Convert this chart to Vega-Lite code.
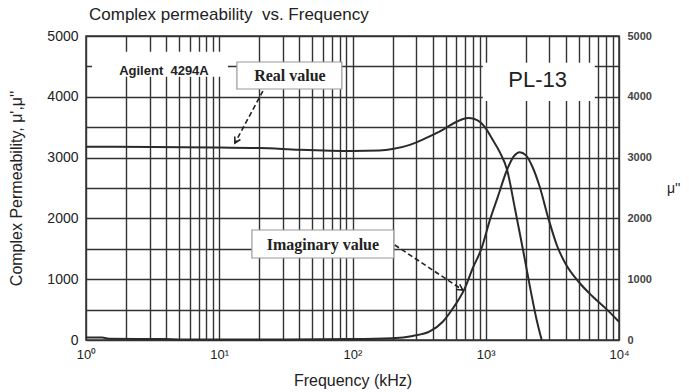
{
  "$schema": "https://vega.github.io/schema/vega-lite/v6.json",
  "width": 533,
  "height": 304,
  "autosize": {"type": "none"},
  "padding": {"left": 86, "top": 36, "right": 70, "bottom": 52},
  "background": "white",
  "title": {"text": "Complex permeability\u00a0\u00a0vs. Frequency", "anchor": "start", "frame": "group", "font": "Liberation Sans", "fontSize": 17, "fontWeight": "normal", "color": "#222", "offset": 5, "dx": 3},
  "config": {
    "view": {"stroke": "#333", "strokeWidth": 1.5},
    "axis": {"domain": false, "ticks": false, "gridColor": "#333", "gridWidth": 1.4, "gridOpacity": 1, "labelFont": "Liberation Sans", "titleFont": "Liberation Sans", "labelColor": "#222", "titleColor": "#222", "titleFontWeight": "normal"}
  },
  "datasets": {
    "curves": [
      {"freq": 1, "mu": 3180, "series": "Real"},
      {"freq": 3.162, "mu": 3175, "series": "Real"},
      {"freq": 10, "mu": 3165, "series": "Real"},
      {"freq": 19.95, "mu": 3158, "series": "Real"},
      {"freq": 39.81, "mu": 3130, "series": "Real"},
      {"freq": 100, "mu": 3110, "series": "Real"},
      {"freq": 158.5, "mu": 3118, "series": "Real"},
      {"freq": 199.5, "mu": 3140, "series": "Real"},
      {"freq": 269.2, "mu": 3210, "series": "Real"},
      {"freq": 354.8, "mu": 3320, "series": "Real"},
      {"freq": 478.6, "mu": 3460, "series": "Real"},
      {"freq": 602.6, "mu": 3590, "series": "Real"},
      {"freq": 676.1, "mu": 3635, "series": "Real"},
      {"freq": 741.3, "mu": 3650, "series": "Real"},
      {"freq": 812.8, "mu": 3640, "series": "Real"},
      {"freq": 912.0, "mu": 3580, "series": "Real"},
      {"freq": 1000, "mu": 3480, "series": "Real"},
      {"freq": 1122, "mu": 3300, "series": "Real"},
      {"freq": 1274, "mu": 3090, "series": "Real"},
      {"freq": 1445, "mu": 2800, "series": "Real"},
      {"freq": 1660, "mu": 2150, "series": "Real"},
      {"freq": 1905, "mu": 1480, "series": "Real"},
      {"freq": 2188, "mu": 780, "series": "Real"},
      {"freq": 2399, "mu": 350, "series": "Real"},
      {"freq": 2630, "mu": 0, "series": "Real"},
      {"freq": 1, "mu": 40, "series": "Imaginary"},
      {"freq": 1.318, "mu": 40, "series": "Imaginary"},
      {"freq": 1.514, "mu": 20, "series": "Imaginary"},
      {"freq": 3.981, "mu": 15, "series": "Imaginary"},
      {"freq": 5.012, "mu": 10, "series": "Imaginary"},
      {"freq": 31.62, "mu": 10, "series": "Imaginary"},
      {"freq": 100, "mu": 15, "series": "Imaginary"},
      {"freq": 199.5, "mu": 30, "series": "Imaginary"},
      {"freq": 283.5, "mu": 67, "series": "Imaginary"},
      {"freq": 380.2, "mu": 140, "series": "Imaginary"},
      {"freq": 475.9, "mu": 300, "series": "Imaginary"},
      {"freq": 565.7, "mu": 517, "series": "Imaginary"},
      {"freq": 695.8, "mu": 850, "series": "Imaginary"},
      {"freq": 799.0, "mu": 1183, "series": "Imaginary"},
      {"freq": 933.3, "mu": 1517, "series": "Imaginary"},
      {"freq": 1072, "mu": 1967, "series": "Imaginary"},
      {"freq": 1230, "mu": 2350, "series": "Imaginary"},
      {"freq": 1445, "mu": 2800, "series": "Imaginary"},
      {"freq": 1622, "mu": 3020, "series": "Imaginary"},
      {"freq": 1799, "mu": 3090, "series": "Imaginary"},
      {"freq": 1995, "mu": 3040, "series": "Imaginary"},
      {"freq": 2239, "mu": 2850, "series": "Imaginary"},
      {"freq": 2541, "mu": 2520, "series": "Imaginary"},
      {"freq": 2951, "mu": 2000, "series": "Imaginary"},
      {"freq": 3428, "mu": 1550, "series": "Imaginary"},
      {"freq": 3981, "mu": 1250, "series": "Imaginary"},
      {"freq": 5012, "mu": 950, "series": "Imaginary"},
      {"freq": 6310, "mu": 720, "series": "Imaginary"},
      {"freq": 8128, "mu": 500, "series": "Imaginary"},
      {"freq": 10000, "mu": 300, "series": "Imaginary"}
    ],
    "boxes": [
      {"x1": 1.109, "x2": 11.61, "y1": 4330, "y2": 4740, "kind": "plain"},
      {"x1": 950, "x2": 6577, "y1": 3930, "y2": 4560, "kind": "plain"},
      {"x1": 13.57, "x2": 83.2, "y1": 4128, "y2": 4572, "kind": "framed"},
      {"x1": 17.58, "x2": 204.2, "y1": 1349, "y2": 1809, "kind": "framed"}
    ],
    "labels": [
      {"freq": 3.846, "mu": 4424, "text": "Agilent\u00a0\u00a04294A", "kind": "sans"},
      {"freq": 2455, "mu": 4276, "text": "PL-13", "kind": "big"},
      {"freq": 33.9, "mu": 4342, "text": "Real value", "kind": "serif"},
      {"freq": 59.95, "mu": 1562, "text": "Imaginary value", "kind": "serif"}
    ],
    "arrows": [
      {"f1": 21.26, "m1": 4095, "f2": 13.11, "m2": 3240, "name": "real"},
      {"f1": 207.7, "m1": 1562, "f2": 672, "m2": 822, "name": "imag"}
    ]
  },
  "layer": [
    {
      "data": {"name": "boxes"},
      "mark": {"type": "rect", "fill": "white", "strokeWidth": 1.2},
      "encoding": {
        "x": {"field": "x1", "type": "quantitative", "scale": {"type": "log", "domain": [1, 10000], "nice": false},
          "axis": {"values": [1,2,3,4,5,6,7,8,9,10,20,30,40,50,60,70,80,90,100,200,300,400,500,600,700,800,900,1000,2000,3000,4000,5000,6000,7000,8000,9000,10000],
            "grid": true,
            "labelExpr": "datum.value == 1 ? '10⁰' : datum.value == 10 ? '10¹' : datum.value == 100 ? '10²' : datum.value == 1000 ? '10³' : datum.value == 10000 ? '10⁴' : ''",
            "labelFontSize": 13, "labelPadding": 8, "labelFlush": false, "labelOverlap": false,
            "title": "Frequency (kHz)", "titleFontSize": 16, "titlePadding": 11}},
        "x2": {"field": "x2"},
        "y": {"field": "y1", "type": "quantitative", "scale": {"domain": [0, 5000], "nice": false},
          "axis": {"values": [0,500,1000,1500,2000,2500,3000,3500,4000,4500,5000], "format": "d", "grid": true,
            "labelExpr": "datum.value % 1000 == 0 ? datum.label : ''",
            "labelFontSize": 14, "labelPadding": 8, "labelFlush": false,
            "title": "Complex Permeability, μ',μ''", "titleFontSize": 16, "titlePadding": 22}},
        "y2": {"field": "y2"},
        "stroke": {"condition": {"test": "datum.kind === 'framed'", "value": "#999"}, "value": null}
      }
    },
    {
      "data": {"name": "labels"},
      "transform": [{"filter": "datum.kind === 'sans'"}],
      "mark": {"type": "text", "font": "Liberation Sans", "fontSize": 13, "fontWeight": "bold", "color": "#222", "baseline": "middle", "align": "center"},
      "encoding": {
        "x": {"field": "freq", "type": "quantitative"},
        "y": {"field": "mu", "type": "quantitative", "scale": {"domain": [0, 5000], "nice": false}, "axis": null},
        "text": {"field": "text"}
      }
    },
    {
      "data": {"name": "labels"},
      "transform": [{"filter": "datum.kind === 'big'"}],
      "mark": {"type": "text", "font": "Liberation Sans", "fontSize": 22, "color": "#222", "baseline": "middle", "align": "center"},
      "encoding": {
        "x": {"field": "freq", "type": "quantitative"},
        "y": {"field": "mu", "type": "quantitative", "scale": {"domain": [0, 5000], "nice": false}, "axis": null},
        "text": {"field": "text"}
      }
    },
    {
      "data": {"name": "labels"},
      "transform": [{"filter": "datum.kind === 'serif'"}],
      "mark": {"type": "text", "font": "Liberation Serif", "fontSize": 16, "fontWeight": "bold", "color": "#222", "baseline": "middle", "align": "center"},
      "encoding": {
        "x": {"field": "freq", "type": "quantitative"},
        "y": {"field": "mu", "type": "quantitative", "scale": {"domain": [0, 5000], "nice": false}, "axis": null},
        "text": {"field": "text"}
      }
    },
    {
      "data": {"name": "curves"},
      "transform": [{"filter": "datum.series === 'Real'"}],
      "mark": {"type": "line", "color": "#2a2a2a", "strokeWidth": 2, "interpolate": "monotone"},
      "encoding": {
        "x": {"field": "freq", "type": "quantitative"},
        "y": {"field": "mu", "type": "quantitative", "scale": {"domain": [0, 5000], "nice": false}, "axis": null}
      }
    },
    {
      "data": {"name": "curves"},
      "transform": [{"filter": "datum.series === 'Imaginary'"}],
      "mark": {"type": "line", "color": "#2a2a2a", "strokeWidth": 2, "interpolate": "monotone"},
      "encoding": {
        "x": {"field": "freq", "type": "quantitative"},
        "y": {"field": "mu", "type": "quantitative", "scale": {"domain": [0, 5000], "nice": false},
          "axis": {"orient": "right", "grid": false, "values": [0,1000,2000,3000,4000,5000], "format": "d",
            "labelFontSize": 11, "labelFontWeight": "bold", "labelColor": "#444", "labelPadding": 8, "labelFlush": false,
            "title": "μ''", "titleAngle": 0, "titleAlign": "left", "titleBaseline": "middle", "titleFontSize": 14, "titlePadding": 15}}
      }
    },
    {
      "data": {"name": "arrows"},
      "mark": {"type": "rule", "color": "#222", "strokeWidth": 1.6, "strokeDash": [5, 3]},
      "encoding": {
        "x": {"field": "f1", "type": "quantitative"},
        "x2": {"field": "f2"},
        "y": {"field": "m1", "type": "quantitative", "scale": {"domain": [0, 5000], "nice": false}, "axis": null},
        "y2": {"field": "m2"}
      }
    },
    {
      "data": {"name": "arrows"},
      "transform": [{"filter": "datum.name === 'real'"}],
      "mark": {"type": "point", "shape": "M -0.5 0.9 L 0 0 L 0.5 0.9", "filled": false, "stroke": "#222", "strokeWidth": 1.6, "size": 160, "angle": 208, "opacity": 1},
      "encoding": {
        "x": {"field": "f2", "type": "quantitative"},
        "y": {"field": "m2", "type": "quantitative", "scale": {"domain": [0, 5000], "nice": false}, "axis": null}
      }
    },
    {
      "data": {"name": "arrows"},
      "transform": [{"filter": "datum.name === 'imag'"}],
      "mark": {"type": "point", "shape": "M -0.5 0.9 L 0 0 L 0.5 0.9", "filled": false, "stroke": "#222", "strokeWidth": 1.6, "size": 160, "angle": 123.5, "opacity": 1},
      "encoding": {
        "x": {"field": "f2", "type": "quantitative"},
        "y": {"field": "m2", "type": "quantitative", "scale": {"domain": [0, 5000], "nice": false}, "axis": null}
      }
    }
  ],
  "resolve": {"scale": {"y": "independent"}}
}
